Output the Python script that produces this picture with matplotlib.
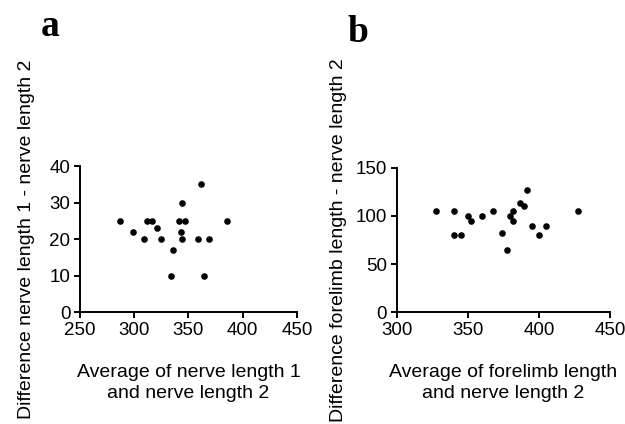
import matplotlib
matplotlib.use('Agg')
import matplotlib.pyplot as plt

plt.rcParams['font.family'] = ['Liberation Sans', 'DejaVu Sans']

# panel a: nerve length 1 vs nerve length 2
avg_nerve = [287, 298.5, 309, 311.6, 316.8, 320.7, 324.4, 335.4, 334, 341,
             344, 346.6, 343, 344, 359, 361.6, 364, 369, 386]
diff_nerve = [25, 22, 20, 25, 25, 23, 20, 17, 10, 25,
              30, 25, 22, 20, 20, 35, 10, 20, 25]

# panel b: forelimb length vs nerve length 2
avg_limb = [327.5, 340.4, 339.9, 345, 349.8, 352.3, 359.9, 367.4, 374, 377.2,
            379.6, 382, 382, 386.6, 389.7, 391.3, 394.8, 399.8, 404.7, 427.2]
diff_limb = [105, 105, 80, 80, 100, 95, 100, 105, 82, 65,
             100, 105, 95, 114, 110, 127, 90, 80, 90, 105]

fig = plt.figure(figsize=(6.25, 4.24), dpi=100)
ax1 = fig.add_axes([0.128, 0.264, 0.347, 0.344])
ax2 = fig.add_axes([0.635, 0.264, 0.341, 0.340])


def style(ax):
    for s in ['top', 'right']:
        ax.spines[s].set_visible(False)
    for s in ['left', 'bottom']:
        ax.spines[s].set_linewidth(1.4)
    ax.tick_params(direction='out', length=4, width=1.4, labelsize=13.5, pad=3)


ax1.scatter(avg_nerve, diff_nerve, s=14, color='black', zorder=3, clip_on=False)
ax1.set_xlim(250, 450)
ax1.set_ylim(0, 40)
ax1.set_xticks([250, 300, 350, 400, 450])
ax1.set_yticks([0, 10, 20, 30, 40])
ax1.set_xlabel('Average of nerve length 1\nand nerve length 2', fontsize=14, labelpad=18,
               linespacing=1.35)
ax1.set_ylabel('Difference nerve length 1 - nerve length 2', fontsize=14, labelpad=10)
style(ax1)

ax2.scatter(avg_limb, diff_limb, s=14, color='black', zorder=3, clip_on=False)
ax2.set_xlim(300, 450)
ax2.set_ylim(0, 150)
ax2.set_xticks([300, 350, 400, 450])
ax2.set_yticks([0, 50, 100, 150])
ax2.set_xlabel('Average of forelimb length\nand nerve length 2', fontsize=14, labelpad=18,
               linespacing=1.35)
ax2.set_ylabel('Difference forelimb length - nerve length 2', fontsize=14, labelpad=6)
style(ax2)

fig.text(0.08, 0.915, 'a', fontsize=27, fontweight='bold', family='Liberation Serif',
         ha='center', va='baseline')
fig.text(0.573, 0.90, 'b', fontsize=27, fontweight='bold', family='Liberation Serif',
         ha='center', va='baseline')

fig.savefig('out.png', dpi=100)
